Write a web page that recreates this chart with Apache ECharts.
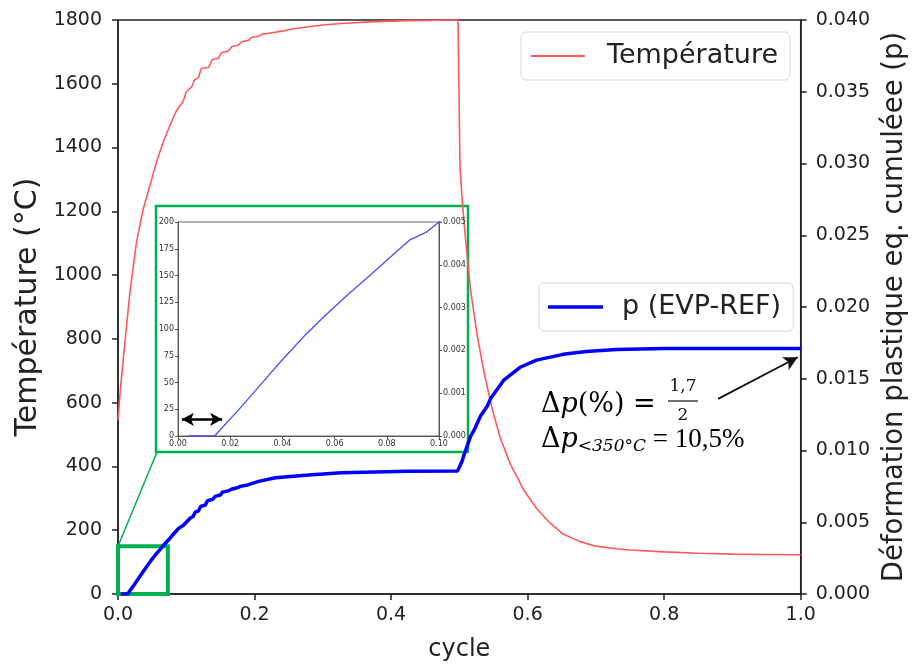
<!DOCTYPE html>
<html><head><meta charset="utf-8">
<script src="https://cdn.jsdelivr.net/npm/echarts@6/dist/echarts.min.js"></script>
<style>html,body{margin:0;padding:0;background:#fff}#c{width:917px;height:667px}</style>
</head><body><div id="c"></div>
<script>
// ---- data ----
const cycleT = [0, 0.004, 0.0102, 0.0174, 0.027, 0.0368, 0.0465, 0.056, 0.0659, 0.0756,
  0.0853, 0.092, 0.096, 0.100, 0.108, 0.112, 0.118, 0.122, 0.133, 0.138,
  0.147, 0.152, 0.162, 0.167, 0.176, 0.181, 0.191, 0.196, 0.206, 0.212,
  0.224, 0.240, 0.255, 0.279, 0.303, 0.328, 0.376, 0.424, 0.473, 0.498,
  0.501, 0.5044, 0.509, 0.5165, 0.526, 0.536, 0.548, 0.560, 0.5746, 0.594,
  0.613, 0.633, 0.652, 0.676, 0.700, 0.730, 0.750, 0.800, 0.850, 0.900, 0.950, 1.000];
const temperature = [545, 655, 790, 946, 1102, 1206, 1279, 1352, 1415, 1467,
  1514, 1535, 1548, 1575, 1590, 1612, 1620, 1648, 1652, 1676,
  1680, 1698, 1703, 1717, 1721, 1732, 1736, 1746, 1749, 1756,
  1759, 1765, 1772, 1779, 1785, 1789, 1795, 1798, 1799.5, 1800,
  1333, 1229, 1114, 952, 813, 697, 581, 489, 408, 327,
  269, 222, 188, 165, 150, 142, 138, 132, 128, 125, 124, 123];
const cycleP = [0.004, 0.014, 0.0232, 0.0315, 0.0392, 0.0481, 0.0558, 0.0648, 0.0737, 0.0814,
  0.089, 0.0954, 0.1, 0.106, 0.110, 0.113, 0.118, 0.121, 0.128, 0.131,
  0.139, 0.142, 0.150, 0.153, 0.162, 0.166, 0.175, 0.179, 0.190, 0.206,
  0.2306, 0.279, 0.3275, 0.376, 0.424, 0.4975, 0.5044, 0.5068, 0.5165, 0.5214,
  0.531, 0.541, 0.5455, 0.565, 0.589, 0.613, 0.652, 0.686, 0.73, 0.8, 0.9, 1.0];
const plasticP = [0, 0, 0.00061, 0.00119, 0.00173, 0.00232, 0.00278, 0.00329, 0.00376, 0.00418,
  0.00459, 0.00477, 0.005, 0.0053, 0.0054, 0.0057, 0.0058, 0.0061, 0.0062, 0.0065,
  0.0066, 0.0068, 0.0069, 0.0071, 0.0072, 0.0073, 0.0074, 0.0075, 0.0076, 0.00785,
  0.0081, 0.0083, 0.00845, 0.0085, 0.00855, 0.00858, 0.0093, 0.0097, 0.0110, 0.0114,
  0.0124, 0.0131, 0.0136, 0.0149, 0.0158, 0.0163, 0.0167, 0.0169, 0.01703, 0.0171, 0.0171, 0.0171];
// axis ranges / ticks
const xRange = [0, 1], xStep = 0.2;
const tRange = [0, 1800], tStep = 200;
const pRange = [0, 0.04], pStep = 0.005;
const insetX = [0, 0.1], insetXStep = 0.02;
const insetT = [0, 200], insetTStep = 25;
const insetP = [0, 0.005], insetPStep = 0.001;
// zoom box (cycle, temperature) and annotation anchors
const zoomCycle = [0, 0.073], zoomTemp = [0, 150];
const arrowFrom = [0.879, 0.0136], arrowTo = [0.9956, 0.0165];
const dblArrowCycle = [0.0015, 0.0169], dblArrowP = 0.00039;

const tempData = cycleT.map((c, i) => [c, temperature[i]]);
const pData = cycleP.map((c, i) => [c, plasticP[i]]);

const FONT = 'DejaVu Sans';
const DARK = '#222';
const tick = {fontFamily: FONT, fontSize: 19, color: DARK};
const insetLbl = {fontFamily: FONT, fontSize: 8, color: '#333'};
const GREEN = '#00b050';
const RED = '#ff5a5a', BLUE = '#0000ff';

const chart = echarts.init(document.getElementById('c'));
chart.setOption({
  animation: false,
  backgroundColor: '#fff',
  textStyle: {fontFamily: FONT},
  grid: [
    {left: 118, top: 20, width: 688, height: 576, show: true, borderColor: DARK, borderWidth: 1.5, backgroundColor: 'transparent'},
    {left: 178, top: 222, width: 261, height: 214, show: true, borderColor: '#666', borderWidth: 1, backgroundColor: 'transparent', z: 5}
  ],
  xAxis: [
    {type: 'value', gridIndex: 0, min: xRange[0], max: xRange[1], interval: xStep,
      name: 'cycle', nameLocation: 'middle', nameGap: 44,
      nameTextStyle: {fontFamily: FONT, fontSize: 24, color: DARK},
      axisLine: {lineStyle: {color: DARK, width: 1.5}},
      axisTick: {length: 6, lineStyle: {color: DARK, width: 1.5}},
      axisLabel: Object.assign({margin: 12, formatter: v => v.toFixed(1)}, tick),
      splitLine: {show: false}},
    {type: 'value', gridIndex: 1, min: insetX[0], max: insetX[1], interval: insetXStep, z: 6,
      axisLine: {lineStyle: {color: '#555', width: 1}},
      axisTick: {length: 3, lineStyle: {color: '#555', width: 1}},
      axisLabel: Object.assign({margin: 4, formatter: v => v.toFixed(2)}, insetLbl),
      splitLine: {show: false}}
  ],
  yAxis: [
    {type: 'value', gridIndex: 0, position: 'left', min: tRange[0], max: tRange[1], interval: tStep,
      name: 'Température (°C)', nameLocation: 'middle', nameGap: 72, nameRotate: 90,
      nameTextStyle: {fontFamily: FONT, fontSize: 30, color: DARK},
      axisLine: {show: true, lineStyle: {color: DARK, width: 1.5}},
      axisTick: {show: true, length: 6, lineStyle: {color: DARK, width: 1.5}},
      axisLabel: Object.assign({margin: 16, formatter: v => String(v)}, tick),
      splitLine: {show: false}},
    {type: 'value', gridIndex: 0, position: 'right', min: pRange[0], max: pRange[1], interval: pStep,
      name: 'Déformation plastique eq. cumuléee (p)', nameLocation: 'middle', nameGap: 76, nameRotate: 90,
      nameTextStyle: {fontFamily: FONT, fontSize: 27.5, color: DARK},
      axisLine: {show: true, lineStyle: {color: DARK, width: 1.5}},
      axisTick: {show: true, length: 6, lineStyle: {color: DARK, width: 1.5}},
      axisLabel: Object.assign({margin: 15, formatter: v => v.toFixed(3)}, tick),
      splitLine: {show: false}},
    {type: 'value', gridIndex: 1, position: 'left', min: insetT[0], max: insetT[1], interval: insetTStep, z: 6,
      axisLine: {show: true, lineStyle: {color: '#555', width: 1}},
      axisTick: {show: true, length: 3, lineStyle: {color: '#555', width: 1}},
      axisLabel: Object.assign({margin: 4, formatter: v => String(v)}, insetLbl),
      splitLine: {show: false}},
    {type: 'value', gridIndex: 1, position: 'right', min: insetP[0], max: insetP[1], interval: insetPStep, z: 6,
      axisLine: {show: true, lineStyle: {color: '#555', width: 1}},
      axisTick: {show: true, length: 3, lineStyle: {color: '#555', width: 1}},
      axisLabel: Object.assign({margin: 4, formatter: v => v.toFixed(3)}, insetLbl),
      splitLine: {show: false}}
  ],
  legend: [
    {data: [{name: 'Température', icon: 'rect', itemStyle: {color: RED}}], left: 521, top: 32,
      padding: [9, 12, 9, 10], itemWidth: 54, itemHeight: 2,
      selectedMode: false, backgroundColor: '#fff', borderColor: '#d8d8d8', borderWidth: 1, borderRadius: 5,
      textStyle: {fontFamily: FONT, fontSize: 27, color: DARK, lineHeight: 30, padding: [0, 0, 0, 17]}},
    {data: [{name: 'p (EVP-REF)', icon: 'rect', itemStyle: {color: BLUE}}], left: 539, top: 283,
      padding: [9, 12, 9, 9], itemWidth: 55, itemHeight: 3.5,
      selectedMode: false, backgroundColor: '#fff', borderColor: '#d8d8d8', borderWidth: 1, borderRadius: 5,
      textStyle: {fontFamily: FONT, fontSize: 27, color: DARK, lineHeight: 30, padding: [0, 0, 0, 14]}}
  ],
  graphic: [
    {type: 'rect', z: 1, shape: {x: 156, y: 206, width: 312, height: 246},
      style: {fill: '#fff', stroke: GREEN, lineWidth: 2.5}},
    {type: 'text', z: 20, x: 541, y: 405,
      style: {text: '{d|Δ}{i|p}{d|(%) =}', verticalAlign: 'middle', align: 'left',
        rich: {d: {fontFamily: 'DejaVu Serif', fontSize: 27, color: '#111'},
               i: {fontFamily: 'DejaVu Serif', fontStyle: 'italic', fontSize: 27, color: '#111'}}}},
    {type: 'text', z: 20, x: 683, y: 387,
      style: {text: '1,7', font: '17px "DejaVu Serif"', fill: '#111', align: 'center', verticalAlign: 'middle'}},
    {type: 'line', z: 20, shape: {x1: 668, y1: 401, x2: 698, y2: 401}, style: {stroke: '#111', lineWidth: 1.2}},
    {type: 'text', z: 20, x: 683, y: 416,
      style: {text: '2', font: '17px "DejaVu Serif"', fill: '#111', align: 'center', verticalAlign: 'middle'}},
    {type: 'text', z: 20, x: 541, y: 440,
      style: {text: '{d|Δ}{i|p}{s|<350°C}{e| = 10,5%}', verticalAlign: 'middle', align: 'left',
        rich: {d: {fontFamily: 'DejaVu Serif', fontSize: 27, color: '#111', lineHeight: 30},
               i: {fontFamily: 'DejaVu Serif', fontStyle: 'italic', fontSize: 27, color: '#111', lineHeight: 30},
               s: {fontFamily: 'DejaVu Serif', fontStyle: 'italic', fontSize: 17, color: '#111', lineHeight: 19, verticalAlign: 'bottom'},
               e: {fontFamily: 'Liberation Serif', fontSize: 27, color: '#111', lineHeight: 30}}}}
  ],
  series: [
    {name: 'Température', type: 'line', xAxisIndex: 0, yAxisIndex: 0, data: tempData, symbol: 'none', z: 3,
      lineStyle: {color: RED, width: 1.6}, itemStyle: {color: RED},
      markArea: {silent: true, itemStyle: {color: 'rgba(0,0,0,0)', borderColor: GREEN, borderWidth: 4},
        data: [[{coord: [zoomCycle[0], zoomTemp[0]]}, {coord: [zoomCycle[1], zoomTemp[1]]}]]},
      markLine: {silent: true, symbol: ['none', 'none'], label: {show: false},
        lineStyle: {color: GREEN, width: 1.5, type: 'solid'},
        data: [[{coord: [zoomCycle[0], zoomTemp[1]]}, {x: 157, y: 452}]]}},
    {name: 'p (EVP-REF)', type: 'line', xAxisIndex: 0, yAxisIndex: 1, data: pData, symbol: 'none', z: 4,
      lineStyle: {color: BLUE, width: 3.5}, itemStyle: {color: BLUE},
      markLine: {silent: true, symbol: ['none', 'arrow'], symbolSize: [11, 14], label: {show: false},
        lineStyle: {color: '#111', width: 1.8, type: 'solid'},
        data: [[{coord: arrowFrom}, {coord: arrowTo}]]}},
    {name: 'p inset', type: 'line', xAxisIndex: 1, yAxisIndex: 3, data: pData, symbol: 'none', z: 7, clip: true,
      lineStyle: {color: '#4b4bff', width: 1.3}, itemStyle: {color: '#4b4bff'},
      markLine: {silent: true, symbol: ['arrow', 'arrow'], symbolSize: [10, 12], label: {show: false},
        lineStyle: {color: '#000', width: 2.5, type: 'solid'},
        data: [[{coord: [dblArrowCycle[0], dblArrowP]}, {coord: [dblArrowCycle[1], dblArrowP]}]]}}
  ]
});
</script></body></html>
